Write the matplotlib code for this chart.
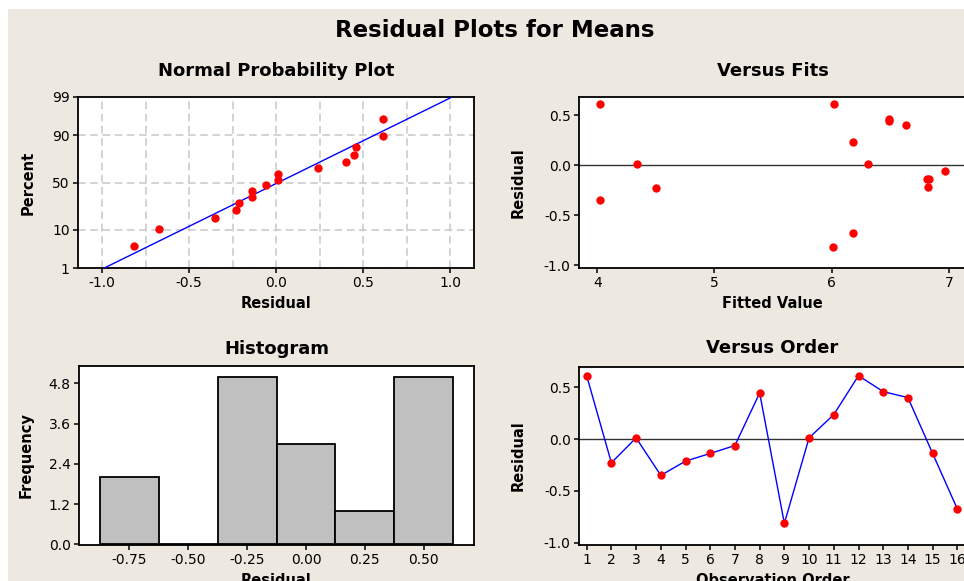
import math
import numpy as np
import matplotlib
matplotlib.use("Agg")
import matplotlib.pyplot as plt
from matplotlib.patches import Rectangle
from matplotlib.ticker import FixedLocator, FixedFormatter, NullLocator, MultipleLocator

# ---------------- data ----------------
observation = list(range(1, 17))
residuals = [0.614, -0.228, 0.013, -0.350, -0.212, -0.138, -0.061, 0.447,
             -0.814, 0.013, 0.238, 0.614, 0.460, 0.402, -0.138, -0.675]
fitted = [4.02, 4.50, 4.34, 4.02, 6.82, 6.81, 6.97, 6.49,
          6.01, 6.31, 6.18, 6.02, 6.49, 6.63, 6.83, 6.18]
hist_edges = [-0.875, -0.625, -0.375, -0.125, 0.125, 0.375, 0.625]
pct_ticks = [1, 10, 50, 90, 99]
pct_labels = ["1", "10", "50", "90", "99"]
hist_yticks = [0.0, 1.2, 2.4, 3.6, 4.8]
hist_xticks = [-0.75, -0.50, -0.25, 0.00, 0.25, 0.50]

plt.rcParams['font.family'] = ['DejaVu Sans']

BEIGE = "#EDE9E0"
W, H = 964, 581


def ppf_pct(p):
    p = np.asarray(p, dtype=float)
    shape = p.shape
    p = np.atleast_1d(p).ravel() / 100.0
    p = np.clip(p, 1e-9, 1 - 1e-9)
    a = [-3.969683028665376e+01, 2.209460984245205e+02, -2.759285104469687e+02,
         1.383577518672690e+02, -3.066479806614716e+01, 2.506628277459239e+00]
    b = [-5.447609879822406e+01, 1.615858368580409e+02, -1.556989798598866e+02,
         6.680131188771972e+01, -1.328068155288572e+01]
    c = [-7.784894002430293e-03, -3.223964580411365e-01, -2.400758277161838e+00,
         -2.549732539343734e+00, 4.374664141464968e+00, 2.938163982698783e+00]
    d = [7.784695709041462e-03, 3.224671290700398e-01, 2.445134137142996e+00,
         3.754408661907416e+00]
    plow = 0.02425
    out = np.empty_like(p)
    lo = p < plow
    hi = p > 1 - plow
    mid = ~(lo | hi)
    q = np.sqrt(-2 * np.log(p[lo]))
    out[lo] = (((((c[0]*q+c[1])*q+c[2])*q+c[3])*q+c[4])*q+c[5]) / ((((d[0]*q+d[1])*q+d[2])*q+d[3])*q+1)
    q = np.sqrt(-2 * np.log(1 - p[hi]))
    out[hi] = -(((((c[0]*q+c[1])*q+c[2])*q+c[3])*q+c[4])*q+c[5]) / ((((d[0]*q+d[1])*q+d[2])*q+d[3])*q+1)
    q = p[mid] - 0.5
    r = q * q
    out[mid] = (((((a[0]*r+a[1])*r+a[2])*r+a[3])*r+a[4])*r+a[5])*q / (((((b[0]*r+b[1])*r+b[2])*r+b[3])*r+b[4])*r+1)
    return out.reshape(shape)


_erf = np.vectorize(math.erf)


def cdf_pct(z):
    z = np.asarray(z, dtype=float)
    return 50.0 * (1.0 + _erf(z / math.sqrt(2.0)))


fig = plt.figure(figsize=(W / 100, H / 100), dpi=100)
fig.patch.set_facecolor("white")
fig.add_artist(Rectangle((8 / W, 0), 1, 1 - 9 / H, transform=fig.transFigure,
                         facecolor=BEIGE, edgecolor="none", zorder=-10))


def add_ax(l, r, t, b):
    return fig.add_axes([l / W, 1 - b / H, (r - l) / W, (b - t) / H])


TICK_FS = 10
LAB_FS = 10.5
TTL_FS = 13


def style(ax):
    ax.set_facecolor("white")
    for s in ax.spines.values():
        s.set_linewidth(1.3)
        s.set_color("black")
    ax.tick_params(direction="out", length=3.5, width=1.1, labelsize=TICK_FS,
                   pad=2.5, colors="black")


fig.text(495 / W, 1 - 37 / H, "Residual Plots for Means", ha="center", va="baseline",
         fontsize=16.5, fontweight="bold")

# ---------- Normal probability plot ----------
ax1 = add_ax(78, 474, 97, 268)
style(ax1)
ax1.set_yscale("function", functions=(ppf_pct, cdf_pct))
n = len(residuals)
sres = np.sort(residuals)
ranks = (np.arange(1, n + 1) - 0.3) / (n + 0.4) * 100
mu = np.mean(residuals)
sd = np.std(residuals, ddof=1)
zl = 2.3263
xl = np.linspace(mu - zl * sd, mu + zl * sd, 50)
ax1.plot(xl, cdf_pct((xl - mu) / sd), color="#0000FF", lw=1.0, zorder=3)
ax1.plot(sres, ranks, "o", color="#FF0000", ms=6, mec="none", zorder=4)
ax1.set_ylim(1, 99)
ax1.set_xlim(-1.1375, 1.135)
ax1.yaxis.set_major_locator(FixedLocator(pct_ticks))
ax1.yaxis.set_major_formatter(FixedFormatter(pct_labels))
ax1.yaxis.set_minor_locator(NullLocator())
ax1.xaxis.set_major_locator(MultipleLocator(0.5))
ax1.xaxis.set_minor_locator(MultipleLocator(0.25))
ax1.tick_params(axis="x", which="minor", length=0)
ax1.xaxis.set_major_formatter(matplotlib.ticker.FormatStrFormatter("%.1f"))
ax1.grid(True, which="both", color="#C8C8C8", ls=(0, (5, 3)), lw=1.1, zorder=0)
ax1.set_axisbelow(True)
ax1.set_title("Normal Probability Plot", fontsize=TTL_FS, fontweight="bold", pad=15)
ax1.set_xlabel("Residual", fontsize=LAB_FS, fontweight="bold", labelpad=4)
ax1.set_ylabel("Percent", fontsize=LAB_FS, fontweight="bold", labelpad=12)

# ---------- Versus Fits ----------
ax2 = add_ax(579, 966, 97, 268)
style(ax2)
ax2.axhline(0, color="#333333", lw=1.0, zorder=1)
ax2.plot(fitted, residuals, "o", color="#FF0000", ms=6, mec="none", zorder=3)
ax2.set_xlim(3.844, 7.146)
ax2.set_ylim(-1.027, 0.683)
ax2.set_xticks([4, 5, 6, 7])
ax2.set_yticks([-1.0, -0.5, 0.0, 0.5])
ax2.yaxis.set_major_formatter(matplotlib.ticker.FormatStrFormatter("%.1f"))
ax2.set_title("Versus Fits", fontsize=TTL_FS, fontweight="bold", pad=15)
ax2.set_xlabel("Fitted Value", fontsize=LAB_FS, fontweight="bold", labelpad=4)
ax2.set_ylabel("Residual", fontsize=LAB_FS, fontweight="bold", labelpad=13)

# ---------- Histogram ----------
ax3 = add_ax(79, 474, 366, 545)
style(ax3)
ax3.hist(residuals, bins=hist_edges, color="#C0C0C0", edgecolor="black", lw=1.3, zorder=2)
ax3.set_xlim(-0.963, 0.713)
ax3.set_ylim(-0.02, 5.32)
ax3.set_xticks(hist_xticks)
ax3.set_yticks(hist_yticks)
ax3.xaxis.set_major_formatter(matplotlib.ticker.FormatStrFormatter("%.2f"))
ax3.yaxis.set_major_formatter(matplotlib.ticker.FormatStrFormatter("%.1f"))
ax3.set_title("Histogram", fontsize=TTL_FS, fontweight="bold", pad=9)
ax3.set_xlabel("Residual", fontsize=LAB_FS, fontweight="bold", labelpad=4)
ax3.set_ylabel("Frequency", fontsize=LAB_FS, fontweight="bold", labelpad=11)

# ---------- Versus Order ----------
ax4 = add_ax(579, 966, 367, 545)
style(ax4)
ax4.axhline(0, color="#333333", lw=1.0, zorder=1)
ax4.plot(observation, residuals, "-", color="#0000FF", lw=1.0, zorder=2)
ax4.plot(observation, residuals, "o", color="#FF0000", ms=6, mec="none", zorder=3)
ax4.set_xlim(0.69, 16.35)
ax4.set_ylim(-1.023, 0.698)
ax4.set_xticks(observation)
ax4.set_yticks([-1.0, -0.5, 0.0, 0.5])
ax4.yaxis.set_major_formatter(matplotlib.ticker.FormatStrFormatter("%.1f"))
ax4.set_title("Versus Order", fontsize=TTL_FS, fontweight="bold", pad=10)
ax4.set_xlabel("Observation Order", fontsize=LAB_FS, fontweight="bold", labelpad=4)
ax4.set_ylabel("Residual", fontsize=LAB_FS, fontweight="bold", labelpad=13)

fig.savefig("out.png", dpi=100, facecolor=fig.get_facecolor())
